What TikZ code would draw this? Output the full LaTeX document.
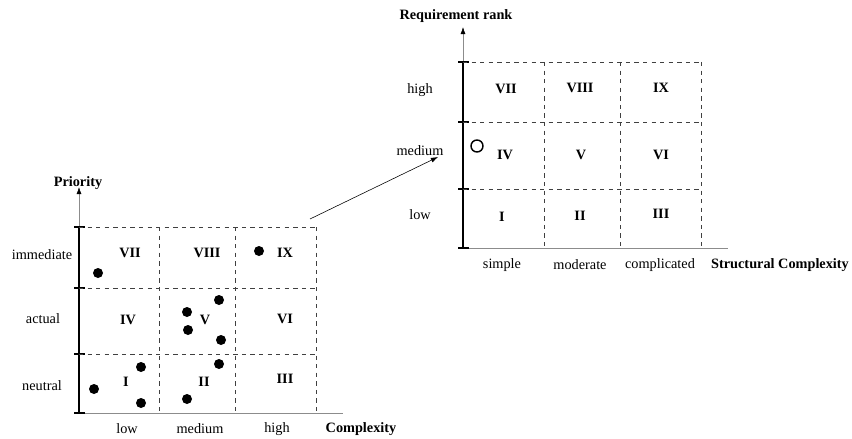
\documentclass[tikz,border=0pt]{standalone}
\usepackage{fontspec}
\setmainfont{Liberation Serif}
\usetikzlibrary{arrows.meta}

\tikzset{
  grid line/.style={dashed, thin, black!75},
  axis line/.style={thin, black!45},
  axis tip/.style={-{Latex[black,length=5pt,width=3.5pt]}},
  rank bar/.style={line width=1.6pt},
  num/.style={font=\bfseries},
  ax label/.style={font=\bfseries}
}

\begin{document}
\begin{tikzpicture}[x=0.7pt, y=-0.7pt]
\useasboundingbox (0,0) rectangle (852,439);

% left matrix: priority vs complexity
\draw[axis line] (79,413) -- (343,413);
\draw[axis line, axis tip] (79,227) -- (79,187);
\draw[rank bar] (79,227) -- (79,413);
\draw[rank bar] (74,227) -- (85,227);
\draw[rank bar] (74,288) -- (85,288);
\draw[rank bar] (74,354) -- (85,354);
\draw[rank bar] (74,413) -- (85,413);

\draw[grid line] (79,227) -- (316,227);
\draw[grid line] (79,288) -- (316,288);
\draw[grid line] (79,354) -- (316,354);
\draw[grid line] (159,227) -- (159,413);
\draw[grid line] (235,227) -- (235,413);
\draw[grid line] (316,227) -- (316,413);

\node[ax label] (prio) at (78,183) {Priority};
\node[ax label] (cplx) at (361,429) {Complexity};
\node (low) at (127,429) {low};
\node (med) at (200,429) {medium};
\node (high) at (277,429) {high};
\node (imm) at (42,255) {immediate};
\node (act) at (43,319) {actual};
\node (neu) at (42,386) {neutral};

\node[num] (l7) at (130,253) {VII};
\node[num] (l8) at (207,253) {VIII};
\node[num] (l9) at (285,253) {IX};
\node[num] (l4) at (128,320) {IV};
\node[num] (l5) at (205,320) {V};
\node[num] (l6) at (285,319) {VI};
\node[num] (l1) at (126,382) {I};
\node[num] (l2) at (204,382) {II};
\node[num] (l3) at (285,379) {III};

% requirements
\foreach \p in {(98,273),(259,251),(219,300),(187,312),(188,330),(221,340),
                (141,367),(94,389),(141,403),(219,364),(187,399)}
  \fill \p circle (5);

% right matrix: requirement rank vs structural complexity
\draw[axis line] (463,248) -- (728,248);
\draw[axis line, axis tip] (463,62) -- (463,27);
\draw[rank bar] (463,62) -- (463,248);
\draw[rank bar] (458,62) -- (469,62);
\draw[rank bar] (458,122) -- (469,122);
\draw[rank bar] (458,189) -- (469,189);
\draw[rank bar] (458,248) -- (469,248);

\draw[grid line] (463,62) -- (701,62);
\draw[grid line] (463,122) -- (701,122);
\draw[grid line] (463,189) -- (701,189);
\draw[grid line] (544,62) -- (544,248);
\draw[grid line] (620,62) -- (620,248);
\draw[grid line] (701,62) -- (701,248);

\node[ax label] (rank) at (456,16) {Requirement rank};
\node[ax label] (scplx) at (780,265) {Structural Complexity};
\node (simple) at (502,265) {simple};
\node (moder) at (580,265) {moderate};
\node (compl) at (660,265) {complicated};
\node (rhigh) at (420,90) {high};
\node (rmed) at (420,151) {medium};
\node (rlow) at (420,215) {low};

\node[num] (r7) at (506,89) {VII};
\node[num] (r8) at (580,88) {VIII};
\node[num] (r9) at (661,88) {IX};
\node[num] (r4) at (505,155) {IV};
\node[num] (r5) at (581,155) {V};
\node[num] (r6) at (661,155) {VI};
\node[num] (r1) at (502,217) {I};
\node[num] (r2) at (580,216) {II};
\node[num] (r3) at (661,214) {III};

\draw[line width=1pt] (477,146) circle (6);

% zoom link between the two matrices
\coordinate (zfrom) at (310,219);
\coordinate (zto) at (438,157);
\draw[-{Latex[length=5pt,width=3.5pt]}] (zfrom) -- (zto);

\end{tikzpicture}
\end{document}
